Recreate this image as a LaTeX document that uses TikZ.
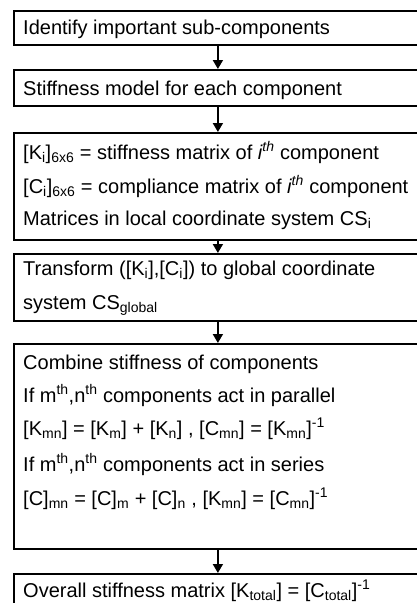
\documentclass[tikz,border=0pt]{standalone}
\usepackage{fontspec}
\setmainfont{Liberation Sans}
\usetikzlibrary{arrows.meta}
\newcommand\sbx[1]{\textsubscript{#1}}
\newcommand\spx[1]{\textsuperscript{#1}}
\begin{document}
\begin{tikzpicture}[x=1pt,y=-1pt,
  box/.style={draw=black, line width=1.8pt, rectangle, minimum width=408pt, anchor=north west, inner sep=0pt},
  txt/.style={anchor=base west, inner sep=0pt, font=\fontsize{20}{24}\selectfont},
  flow/.style={line width=1.8pt, -{Triangle[length=9pt,width=10pt]}}]
\useasboundingbox (0,0) rectangle (417,603);
\fill[white] (0,0) rectangle (417,603);
% boxes
\node[box, minimum height=34pt] (b1) at (13,10) {};
\node[box, minimum height=36pt] (b2) at (13,69) {};
\node[box, minimum height=107pt] (b3) at (13,132) {};
\node[box, minimum height=67pt] (b4) at (13,253) {};
\node[box, minimum height=205pt] (b5) at (13,343) {};
\node[box, minimum height=45pt] (b6) at (13,573) {};
% texts
\node[txt] (t1) at (23,34) {Identify important sub-components};
\node[txt] (t2) at (23,95) {Stiffness model for each component};
\node[txt] (t3a) at (23,159) {[K\sbx{i}]\sbx{6x6} = stiffness matrix of \textit{i\spx{th}} component};
\node[txt] (t3b) at (23,193) {[C\sbx{i}]\sbx{6x6} = compliance matrix of \textit{i\spx{th}} component};
\node[txt] (t3c) at (23,225) {Matrices in local coordinate system CS\sbx{i}};
\node[txt] (t4a) at (23,275) {Transform ([K\sbx{i}],[C\sbx{i}]) to global coordinate};
\node[txt] (t4b) at (23,309) {system CS\sbx{global}};
\node[txt] (t5a) at (23,369) {Combine stiffness of components};
\node[txt] (t5b) at (23,402) {If m\spx{th},n\spx{th} components act in parallel};
\node[txt] (t5c) at (23,435) {[K\sbx{mn}] = [K\sbx{m}] + [K\sbx{n}] , [C\sbx{mn}] = [K\sbx{mn}]\spx{-1}};
\node[txt] (t5d) at (23,471) {If m\spx{th},n\spx{th} components act in series};
\node[txt] (t5e) at (23,505) {[C]\sbx{mn} = [C]\sbx{m} + [C]\sbx{n} , [K\sbx{mn}] = [C\sbx{mn}]\spx{-1}};
\node[txt] (t6) at (23,597) {Overall stiffness matrix [K\sbx{total}] = [C\sbx{total}]\spx{-1}};
% arrows
\draw[flow] (b1.south) -- (b2.north);
\draw[flow] (b2.south) -- (b3.north);
\draw[flow] (b3.south) -- (b4.north);
\draw[flow] (b4.south) -- (b5.north);
\draw[flow] (b5.south) -- (b6.north);
\end{tikzpicture}
\end{document}
